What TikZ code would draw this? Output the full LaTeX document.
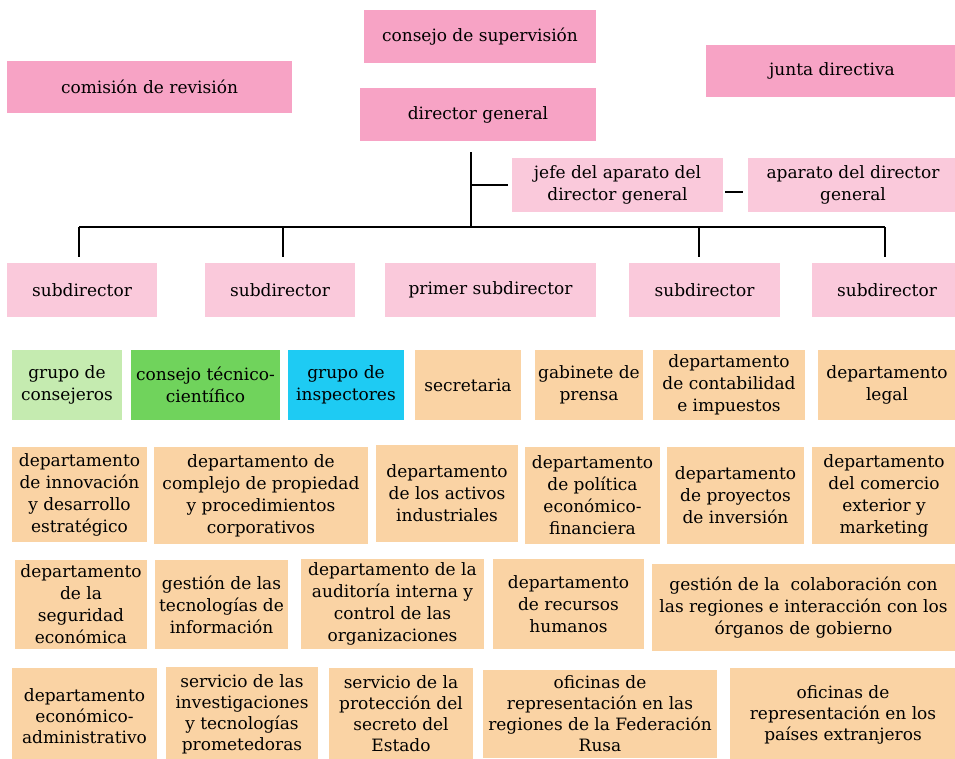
\documentclass[tikz,border=0pt]{standalone}
\usepackage{fontspec}
\setmainfont{DejaVu Serif}
\definecolor{pinkdark}{RGB}{247,163,197}
\definecolor{pinklight}{RGB}{250,201,219}
\definecolor{peach}{RGB}{250,211,164}
\definecolor{lgreen}{RGB}{197,235,176}
\definecolor{mgreen}{RGB}{112,211,92}
\definecolor{cyanbox}{RGB}{30,203,243}
\tikzset{
  box/.style={rectangle, inner sep=0pt, align=center, font=\fontsize{17}{22}\selectfont},
  tight/.style={font=\fontsize{17}{21}\selectfont},
  conn/.style={draw=black, line width=1.3pt}
}
\newcommand\bx[8][]{\node[box,#1,fill=#7,minimum width={(#5-#3)*1pt},minimum height={(#6-#4)*1pt}] (#2) at ({(#3+#5)/2},{(#4+#6)/2}) {#8};}
\begin{document}
\begin{tikzpicture}[x=1pt,y=-1pt]
\fill[white] (0,0) rectangle (955,758);
\useasboundingbox (0,0) rectangle (955,758);
% top
\bx{cs}{364}{10}{596}{63}{pinkdark}{consejo de supervisión}
\bx{cr}{7}{61}{292}{113}{pinkdark}{comisión de revisión}
\bx{jd}{706}{45}{958}{97}{pinkdark}{junta directiva}
\bx{dg}{360}{88}{596}{141}{pinkdark}{director general}
\bx{jefe}{512}{158}{723}{212}{pinklight}{jefe del aparato del\\director general}
\bx{apar}{748}{158}{958}{212}{pinklight}{aparato del director\\general}
% subdirectors
\bx{s1}{7}{263}{157}{317}{pinklight}{subdirector}
\bx{s2}{205}{263}{355}{317}{pinklight}{subdirector}
\bx{ps}{385}{263}{596}{317}{pinklight}{primer subdirector}
\bx{s3}{629}{263}{780}{317}{pinklight}{subdirector}
\bx{s4}{812}{263}{962}{317}{pinklight}{subdirector}
% row 2
\bx{gc}{12}{350}{122}{420}{lgreen}{grupo de\\consejeros}
\bx{ct}{131}{350}{280}{420}{mgreen}{consejo técnico-\\científico}
\bx{gi}{288}{350}{404}{420}{cyanbox}{grupo de\\inspectores}
\bx{sec}{415}{350}{521}{420}{peach}{secretaria}
\bx{gp}{535}{350}{643}{420}{peach}{gabinete de\\prensa}
\bx{dci}{653}{350}{805}{420}{peach}{departamento\\de contabilidad\\e impuestos}
\bx{dl}{818}{350}{956}{420}{peach}{departamento\\legal}
% row 3
\bx{dide}{12}{447}{147}{542}{peach}{departamento\\de innovación\\y desarrollo\\estratégico}
\bx{dcp}{154}{447}{368}{544}{peach}{departamento de\\complejo de propiedad\\y procedimientos\\corporativos}
\bx{dai}{376}{445}{518}{542}{peach}{departamento\\de los activos\\industriales}
\bx{dpef}{525}{447}{660}{544}{peach}{departamento\\de política\\económico-\\financiera}
\bx{dpi}{667}{447}{804}{544}{peach}{departamento\\de proyectos\\de inversión}
\bx{dcem}{812}{447}{956}{544}{peach}{departamento\\del comercio\\exterior y\\marketing}
% row 4
\bx{dse}{15}{560}{147}{649}{peach}{departamento\\de la\\seguridad\\económica}
\bx{gti}{155}{560}{288}{649}{peach}{gestión de las\\tecnologías de\\información}
\bx{daic}{301}{559}{484}{649}{peach}{departamento de la\\auditoría interna y\\control de las\\organizaciones}
\bx{drh}{493}{559}{644}{649}{peach}{departamento\\de recursos\\humanos}
\bx{gcr}{652}{564}{955}{651}{peach}{gestión de la\ \ colaboración con\\las regiones e interacción con los\\órganos de gobierno}
% row 5
\bx[tight]{dea}{12}{668}{157}{764}{peach}{departamento\\económico-\\administrativo}
\bx[tight]{sit}{166}{667}{318}{761}{peach}{servicio de las\\investigaciones\\y tecnologías\\prometedoras}
\bx[tight]{spe}{329}{668}{473}{760}{peach}{servicio de la\\protección del\\secreto del\\Estado}
\bx[tight]{orf}{483}{670}{717}{758}{peach}{oficinas de\\representación en las\\regiones de la Federación\\Rusa}
\bx[tight]{ope}{730}{668}{956}{762}{peach}{oficinas de\\representación en los\\países extranjeros}
% connectors
\coordinate (vtop) at (471,152);
\coordinate (busL) at (79,227);
\coordinate (b2) at (283,227);
\coordinate (b3) at (699,227);
\coordinate (busR) at (885,227);
\draw[conn] (vtop) -- (vtop |- busL);
\draw[conn] (busL) -- (busR);
\draw[conn] (vtop |- jefe.west) -- ([xshift=-4pt]jefe.west);
\draw[conn] ([xshift=2pt,yshift=-7pt]jefe.east) -- ([xshift=-5pt,yshift=-7pt]apar.west);
\draw[conn] (busL) -- ++(0,30);
\draw[conn] (b2) -- ++(0,30);
\draw[conn] (b3) -- ++(0,30);
\draw[conn] (busR) -- ++(0,30);
\end{tikzpicture}
\end{document}
